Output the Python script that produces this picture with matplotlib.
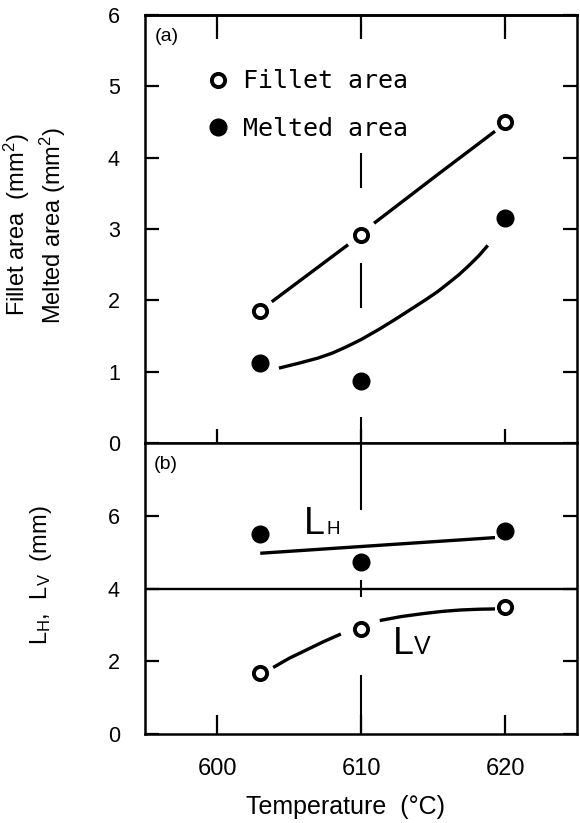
import numpy as np
import matplotlib
matplotlib.use("Agg")
from matplotlib import pyplot as plt
from matplotlib.offsetbox import AnnotationBbox, HPacker, TextArea

plt.rcParams["font.family"] = ["Liberation Sans", "DejaVu Sans"]
plt.rcParams["mathtext.default"] = "regular"

# brazing temperature (deg C)
temps = [603, 610, 620]

# (a) areas, mm^2
fillet_area = [1.85, 2.92, 4.5]
melted_area = [1.12, 0.87, 3.15]

# hand drawn trend lines of (a)
fillet_fit_x = [603.8, 609.1, np.nan, 610.9, 615.3, 619.3]
fillet_fit_y = [1.98, 2.78, np.nan, 3.08, 3.76, 4.37]
melted_fit_x = [604.3, 605.7, 607.0, 608.0, 609.0, 610.0, 611.3, 612.5, 613.5,
                614.5, 615.3, 616.0, 616.8, 617.5, 618.2, 618.8]
melted_fit_y = [1.05, 1.12, 1.19, 1.26, 1.35, 1.45, 1.6, 1.75, 1.88,
                2.01, 2.12, 2.23, 2.36, 2.49, 2.63, 2.77]

# (b) lengths, mm
lh = [5.5, 4.74, 5.57]
lv = [1.69, 2.88, 3.49]
lh_fit_x = [603.0, 619.3]
lh_fit_y = [4.97, 5.40]
lv_fit_x = [603.9, 605.0, 606.2, 607.4, 608.6, np.nan, 611.3, 612.8, 614.3,
            615.6, 616.9, 618.1, 619.3]
lv_fit_y = [1.83, 2.08, 2.31, 2.54, 2.75, np.nan, 3.12, 3.23, 3.31,
            3.37, 3.41, 3.43, 3.44]

x_ticks = [600, 610, 620]
x_labels = ["600", "610", "620"]

fig = plt.figure(figsize=(5.8, 8.23), dpi=100)
ax_a = fig.add_axes([0.25, 0.4617, 0.745, 0.5201])
ax_b = fig.add_axes([0.25, 0.1081, 0.745, 0.3536])

line_kw = dict(color="black", lw=2.4, solid_capstyle="butt")
open_kw = dict(ls="none", marker="o", ms=9.5, mfc="white", mec="black", mew=2.8, zorder=4)
fill_kw = dict(ls="none", marker="o", ms=12, mfc="black", mec="black", zorder=4)
narrow = ["Liberation Sans Narrow", "Liberation Sans", "DejaVu Sans"]


def curve_label(ax, x, y, sub, sub_size, sep):
    # big "L" with a small capital on the same baseline, as one label
    big = TextArea("L", textprops=dict(fontsize=27, family=narrow))
    small = TextArea(sub, textprops=dict(fontsize=sub_size, family=narrow))
    box = HPacker(children=[big, small], align="baseline", pad=0, sep=sep)
    ab = AnnotationBbox(box, (x, y), xycoords="data", box_alignment=(0, 0),
                        frameon=False, pad=0)
    ax.add_artist(ab)


# ---- (a)
ax_a.plot(fillet_fit_x, fillet_fit_y, **line_kw)
ax_a.plot(melted_fit_x, melted_fit_y, **line_kw)
h_fillet, = ax_a.plot(temps, fillet_area, label="Fillet area", **open_kw)
h_melted, = ax_a.plot(temps, melted_area, label="Melted area", **fill_kw)
ax_a.vlines([610] * 3, [0, 1.89, 3.58], [0.36, 2.52, 4.07], color="black", lw=1.5)

ax_a.set_xlim(595, 625)
ax_a.set_ylim(0, 6)
ax_a.set_yticks(range(7))
ax_a.set_xticks(x_ticks)
ax_a.tick_params(axis="y", direction="in", length=10, width=1.6, labelsize=15.5, pad=18,
                 right=True)
ax_a.tick_params(axis="x", direction="inout", length=20, width=1.6, labelbottom=False)
top = ax_a.secondary_xaxis("top")
top.set_xticks(x_ticks)
top.tick_params(direction="in", length=17, width=1.6, labeltop=False)
top.spines["top"].set_linewidth(1.8)

ax_a.set_ylabel("Fillet area  (mm$^2$)\nMelted area (mm$^2$)", fontsize=17,
                va="center", ha="center", linespacing=1.25)
ax_a.yaxis.set_label_coords(-0.255, 0.509)
ax_a.text(0.023, 0.949, "(a)", transform=ax_a.transAxes, fontsize=14, va="center")

ax_a.legend(handles=[h_fillet, h_melted], loc="upper left", bbox_to_anchor=(0.141, 0.873),
            frameon=False, handlelength=0.95, handletextpad=0.55, labelspacing=0.95,
            borderpad=0, borderaxespad=0,
            prop={"family": "DejaVu Sans Mono", "size": 18})

# ---- (b)
ax_b.axhline(4, color="black", lw=1.7)
ax_b.plot(lh_fit_x, lh_fit_y, **line_kw)
ax_b.plot(lv_fit_x, lv_fit_y, **line_kw)
ax_b.plot(temps, lh, **fill_kw)
ax_b.plot(temps, lv, **open_kw)
ax_b.vlines([610] * 3, [0, 3.77, 6.17], [1.63, 4.24, 8], color="black", lw=1.5)

curve_label(ax_b, 606.0, 5.27, "H", 13.5, 1.5)
curve_label(ax_b, 612.2, 1.97, "V", 18, 0.5)

ax_b.set_xlim(595, 625)
ax_b.set_ylim(0, 8)
ax_b.set_yticks([0, 2, 4, 6])
ax_b.set_xticks(x_ticks)
ax_b.set_xticklabels(x_labels)
ax_b.tick_params(axis="y", direction="in", length=10, width=1.6, labelsize=15.5, pad=18,
                 right=True)
ax_b.tick_params(axis="x", direction="in", length=14, width=1.6, labelsize=17, pad=17)

ax_b.set_ylabel("L$_H$,  L$_V$  (mm)", fontsize=17, va="center", ha="center")
ax_b.yaxis.set_label_coords(-0.241, 0.546)
ax_b.set_xlabel("Temperature  (°C)", fontsize=18, va="center")
ax_b.xaxis.set_label_coords(0.464, -0.251)
ax_b.text(0.02, 0.925, "(b)", transform=ax_b.transAxes, fontsize=14, va="center")

for ax in (ax_a, ax_b):
    for sp in ax.spines.values():
        sp.set_linewidth(1.8)

fig.savefig("out.png", dpi=100)
